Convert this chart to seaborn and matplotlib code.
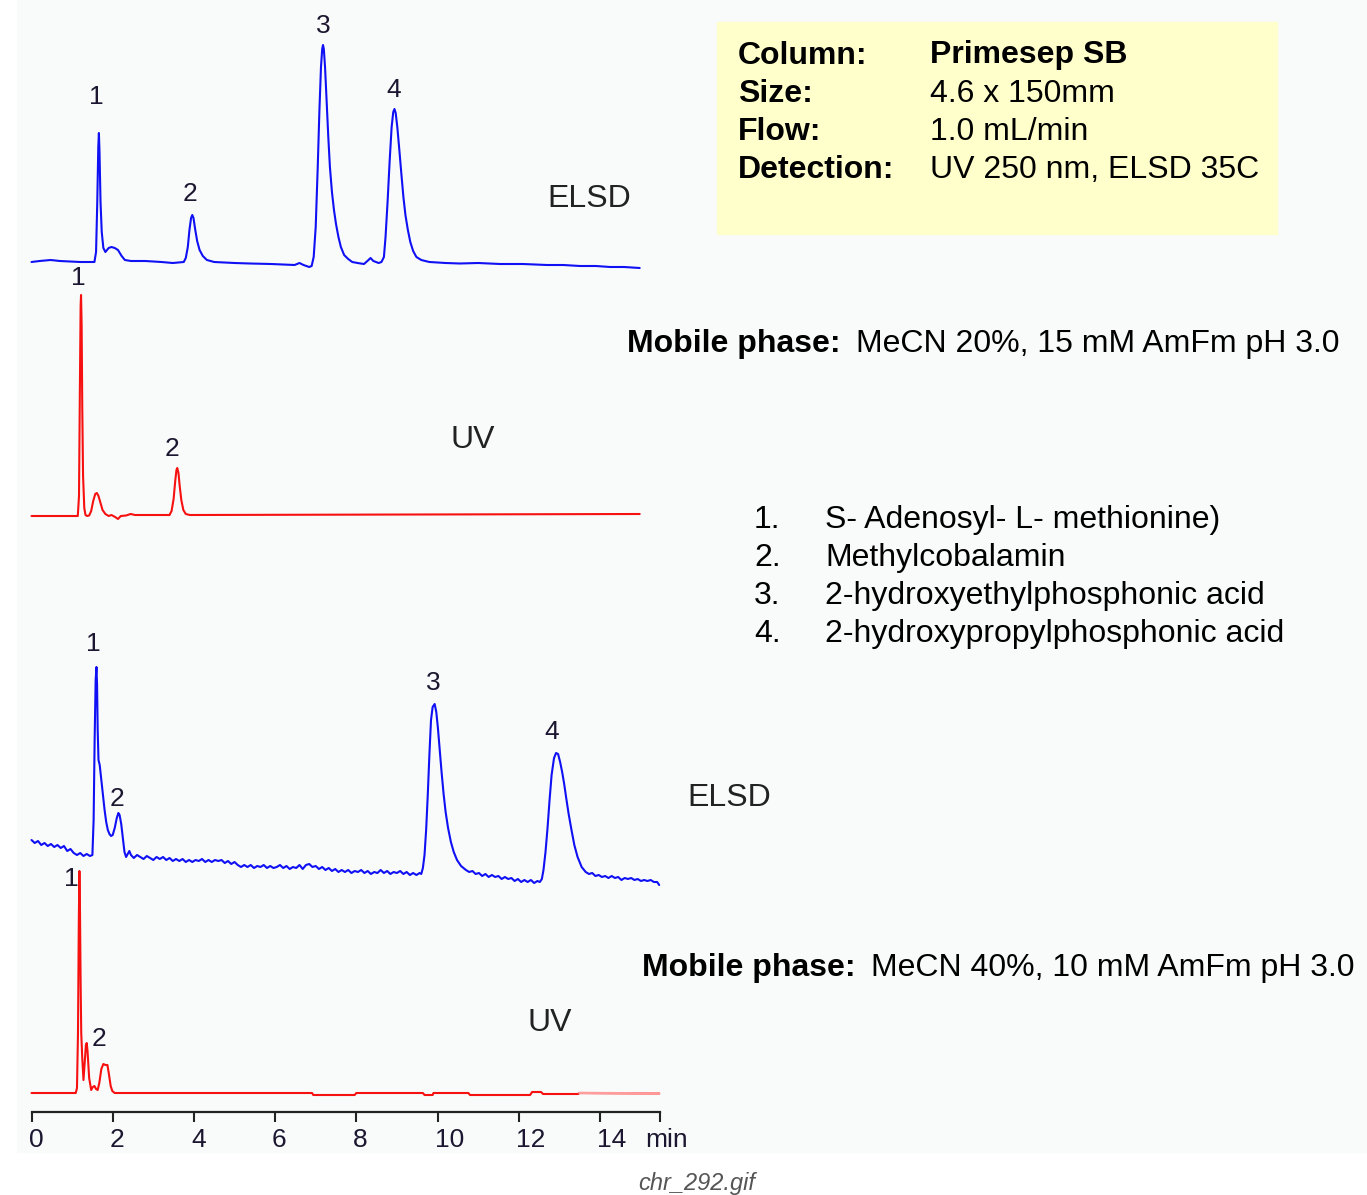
import numpy as np
import matplotlib
matplotlib.use("Agg")
import matplotlib.pyplot as plt
from matplotlib.patches import Rectangle
from matplotlib.transforms import ScaledTranslation
import seaborn as sns

# ---- data: (time in min, signal in arbitrary units) ----
elsd1 = np.array([
    (0.00, 0), (0.20, 1), (0.47, 2), (0.70, 1), (0.95, 0.5), (1.20, 0), (1.50, 0),
    (1.55, 0), (1.59, 10), (1.62, 60), (1.645, 115), (1.66, 129), (1.675, 110),
    (1.70, 60), (1.73, 30), (1.77, 14), (1.82, 10), (1.90, 14), (1.97, 15),
    (2.05, 14), (2.13, 12), (2.22, 6), (2.30, 2), (2.45, 1), (2.80, 1), (3.20, 0),
    (3.48, -1), (3.75, 0), (3.80, 4), (3.85, 15), (3.89, 32), (3.93, 44), (3.96, 47),
    (3.99, 44), (4.03, 33), (4.08, 21), (4.14, 12), (4.22, 6), (4.32, 2), (4.50, 0),
    (5.00, -1), (5.38, -1.5), (5.90, -2), (6.48, -3), (6.60, -1), (6.70, -3),
    (6.84, -5), (6.90, -4), (6.95, 5), (7.00, 35), (7.05, 95), (7.09, 150),
    (7.13, 195), (7.16, 213), (7.18, 217), (7.20, 213), (7.23, 195), (7.27, 160),
    (7.31, 125), (7.35, 95), (7.40, 70), (7.45, 52), (7.50, 38), (7.56, 25),
    (7.62, 15), (7.70, 7), (7.80, 3), (7.90, 0), (8.03, -1), (8.19, -2), (8.30, 2),
    (8.35, 4), (8.42, 1), (8.55, -1), (8.62, 0), (8.68, 5), (8.72, 25), (8.77, 60),
    (8.82, 100), (8.87, 135), (8.91, 150), (8.94, 153), (8.97, 149), (9.01, 135),
    (9.06, 112), (9.11, 88), (9.16, 65), (9.21, 47), (9.27, 32), (9.33, 20),
    (9.40, 11), (9.48, 5), (9.60, 2), (9.80, 0), (10.20, -1), (10.55, -1.5),
    (11.00, -1), (11.54, -2), (12.10, -2), (12.70, -3), (13.10, -3), (13.51, -4),
    (13.90, -4), (14.25, -5), (14.60, -5), (14.98, -6),
])

uv1 = np.array([
    (0.00, 0), (1.14, 0), (1.17, 20), (1.19, 120), (1.21, 210), (1.22, 221),
    (1.235, 190), (1.25, 110), (1.27, 40), (1.30, 8), (1.33, 1), (1.37, 0),
    (1.42, 0.5), (1.47, 5), (1.52, 15), (1.57, 22), (1.61, 23), (1.65, 20),
    (1.70, 13), (1.75, 6), (1.82, 2), (1.90, 0), (1.97, 1), (2.06, -1), (2.13, -3),
    (2.20, 0), (2.33, 0.5), (2.44, 2), (2.55, 1), (3.32, 1), (3.40, 1), (3.45, 5),
    (3.50, 17), (3.54, 35), (3.57, 46), (3.59, 48), (3.62, 43), (3.65, 30),
    (3.69, 16), (3.74, 6), (3.80, 2), (3.90, 1), (14.98, 2),
])

elsd2 = np.array([
    (0.00, 20), (0.08, 17), (0.16, 19), (0.24, 15), (0.32, 17), (0.40, 14), (0.48, 16),
    (0.56, 13), (0.64, 15), (0.72, 12), (0.80, 14), (0.88, 9), (0.96, 11), (1.04, 7),
    (1.12, 5), (1.20, 7), (1.28, 4), (1.36, 6), (1.44, 4), (1.50, 5), (1.53, 40),
    (1.555, 120), (1.58, 180), (1.60, 193), (1.615, 175), (1.63, 130), (1.65, 100),
    (1.68, 95), (1.72, 80), (1.76, 65), (1.80, 50), (1.84, 38), (1.88, 30), (1.92, 26),
    (1.96, 24), (2.00, 25), (2.05, 32), (2.10, 42), (2.14, 47), (2.17, 45), (2.21, 36),
    (2.25, 22), (2.29, 8), (2.33, 3), (2.37, 6), (2.41, 9), (2.45, 5), (2.52, 2),
    (2.60, 5), (2.68, 3), (2.76, 1), (2.84, 4), (2.92, 2), (3.00, 0), (3.08, 3),
    (3.16, 1), (3.24, 3), (3.32, 0), (3.40, 2), (3.48, -1), (3.56, 1), (3.64, -1),
    (3.72, 1), (3.80, -2), (3.88, 0), (3.96, -2), (4.04, 0), (4.12, -1), (4.20, 1),
    (4.28, -2), (4.36, 0), (4.44, -2), (4.52, 0), (4.60, -1), (4.68, 0), (4.76, -3),
    (4.84, -1), (4.92, -4), (5.00, -2), (5.08, -5), (5.16, -7), (5.24, -5), (5.32, -7),
    (5.40, -5), (5.48, -8), (5.56, -6), (5.64, -7), (5.72, -5), (5.80, -8), (5.88, -6),
    (5.96, -8), (6.04, -7), (6.12, -5), (6.20, -8), (6.28, -6), (6.36, -9), (6.44, -7),
    (6.52, -8), (6.60, -5), (6.68, -9), (6.76, -5), (6.84, -4), (6.92, -7), (7.00, -6),
    (7.08, -9), (7.16, -7), (7.24, -10), (7.32, -8), (7.40, -11), (7.48, -9),
    (7.56, -12), (7.64, -10), (7.72, -12), (7.80, -10), (7.88, -13), (7.96, -11),
    (8.04, -12), (8.12, -10), (8.20, -13), (8.28, -11), (8.36, -14), (8.44, -12),
    (8.52, -13), (8.60, -10), (8.68, -13), (8.76, -11), (8.84, -14), (8.92, -12),
    (9.00, -13), (9.08, -11), (9.16, -14), (9.24, -12), (9.32, -15), (9.40, -13),
    (9.48, -15), (9.56, -13), (9.60, -14), (9.64, -8), (9.68, 5), (9.72, 30),
    (9.76, 65), (9.80, 105), (9.84, 140), (9.88, 153), (9.93, 156), (9.97, 148),
    (10.01, 132), (10.05, 112), (10.10, 88), (10.15, 66), (10.20, 48), (10.26, 32),
    (10.33, 18), (10.40, 8), (10.48, 0), (10.58, -6), (10.70, -10), (10.78, -12),
    (10.86, -11), (10.94, -14), (11.02, -13), (11.10, -16), (11.18, -14), (11.26, -17),
    (11.34, -15), (11.42, -17), (11.50, -16), (11.58, -19), (11.66, -17), (11.74, -19),
    (11.82, -18), (11.90, -21), (11.98, -19), (12.06, -22), (12.14, -20), (12.22, -22),
    (12.30, -20), (12.38, -23), (12.46, -21), (12.52, -22), (12.57, -19), (12.61, -10),
    (12.66, 8), (12.71, 32), (12.76, 60), (12.81, 85), (12.87, 102), (12.92, 107),
    (12.97, 106), (13.02, 98), (13.07, 88), (13.12, 76), (13.17, 62), (13.23, 46),
    (13.30, 30), (13.37, 15), (13.45, 3), (13.55, -7), (13.65, -12), (13.73, -14),
    (13.81, -13), (13.89, -16), (13.97, -15), (14.05, -17), (14.13, -16), (14.21, -18),
    (14.29, -16), (14.37, -18), (14.45, -17), (14.53, -20), (14.61, -18), (14.69, -19),
    (14.77, -18), (14.85, -20), (14.93, -19), (15.01, -21), (15.09, -20), (15.17, -21),
    (15.25, -20), (15.33, -22), (15.41, -22), (15.46, -25),
])

uv2 = np.array([
    (0.00, 0), (1.09, 0), (1.12, 5), (1.145, 60), (1.165, 170), (1.18, 222),
    (1.195, 180), (1.21, 110), (1.225, 60), (1.25, 35), (1.28, 13), (1.31, 30),
    (1.34, 48), (1.36, 50), (1.38, 42), (1.42, 15), (1.47, 3), (1.51, 6), (1.55, 7),
    (1.59, 4), (1.63, 3), (1.67, 10), (1.72, 24), (1.77, 29), (1.82, 28), (1.87, 28),
    (1.91, 18), (1.95, 7), (1.99, 2), (2.05, 0), (6.91, 0), (6.94, -2), (7.96, -2),
    (8.00, 0), (9.64, 0), (9.68, -2), (9.88, -2), (9.90, 0), (10.76, 0), (10.80, -2),
    (12.28, -2), (12.33, 1), (12.55, 1), (12.60, -1), (13.46, -1), (13.50, 0),
    (15.46, -0.5),
])

elsd1_peaks = [1.66, 3.96, 7.18, 8.94]
uv1_peaks = [1.22, 3.59]
elsd2_peaks = [1.60, 2.14, 9.93, 12.93]
uv2_peaks = [1.18, 1.36]
peak_names = ["1", "2", "3", "4"]

compounds = ["S- Adenosyl- L- methionine)", "Methylcobalamin",
             "2-hydroxyethylphosphonic acid", "2-hydroxypropylphosphonic acid"]
conditions = [("Column:", "Primesep SB"), ("Size:", "4.6 x 150mm"),
              ("Flow:", "1.0 mL/min"), ("Detection:", "UV 250 nm, ELSD 35C")]
mobile_phases = ["MeCN 20%, 15 mM AmFm pH 3.0", "MeCN 40%, 10 mM AmFm pH 3.0"]
time_ticks = [0, 2, 4, 6, 8, 10, 12, 14]

# ---- style ----
sns.set_style("white")
plt.rcParams["font.family"] = ["Liberation Sans", "DejaVu Sans"]
narrow = ["Liberation Sans Narrow", "Liberation Sans", "DejaVu Sans"]

W, H = 1367, 1195
fig = plt.figure(figsize=(W / 100, H / 100), dpi=100)
fig.patch.set_facecolor("white")
fig.patches.append(Rectangle((17 / W, 1 - 1152 / H), (W - 17) / W, 1152 / H,
                             transform=fig.transFigure, color="#f9fbfa", zorder=-10))


def fx(px):
    return px / W


def fy(py):
    return 1 - py / H


# chromatogram axes: x axis sits at pixel row 1112, 0 min at px 31.5
ax = fig.add_axes([31.5 / W, (H - 1112) / H, 628.5 / W, 1112 / H])
ax.set_zorder(5)
ax.patch.set_alpha(0)
ax.set_xlim(0, 15.48)
ax.set_ylim(0, 1112)

blue = "#1010f4"
red = "#f61010"
traces = [
    (elsd1, 850, blue, elsd1_peaks, [(-3, 36), (-2, 21), (0, 19), (-1, 19)]),
    (uv1, 596, red, uv1_peaks, [(-3, 17), (-5, 19)]),
    (elsd2, 252, blue, elsd2_peaks, [(-3, 23), (-1, 14), (-1, 21), (-5, 21)]),
    (uv2, 19, red, uv2_peaks, [(-8, -8), (12, 4)]),
]

for data, base, col, peaks, offs in traces:
    t = data[:, 0]
    y = data[:, 1] + base
    sns.lineplot(x=t, y=y, color=col, linewidth=1.5, sort=False,
                 estimator=None, ax=ax, clip_on=False)
    for name, rt, (dx, dy) in zip(peak_names, peaks, offs):
        ya = np.interp(rt, t, y)
        ax.annotate(name, xy=(rt, ya), xytext=(dx * 0.72, dy * 0.72),
                    textcoords="offset points", ha="center", va="center",
                    fontsize=19, family=narrow, color="#1c1630")

# faded tail of the lower UV trace
m = uv2[:, 0] >= 13.5
sns.lineplot(x=uv2[m, 0], y=uv2[m, 1] + 19, color="#ff9c9c", linewidth=1.8,
             sort=False, estimator=None, ax=ax, clip_on=False)

for side in ["top", "left", "right"]:
    ax.spines[side].set_visible(False)
ax.spines["bottom"].set_color("#222222")
ax.spines["bottom"].set_linewidth(1.6)
ax.set_yticks([])
ax.set_xticks(time_ticks + [15.48])
ax.set_xticklabels([str(v) for v in time_ticks] + [""], fontsize=19,
                   family=narrow, color="#1c1630", ha="left")
ax.tick_params(axis="x", direction="out", length=7.5, width=1.5,
               color="#222222", pad=4, bottom=True)
shift = ScaledTranslation(-3 / 100, 0, fig.dpi_scale_trans)
for lab in ax.get_xticklabels():
    lab.set_transform(lab.get_transform() + shift)
ax.set_xlabel("")
ax.set_ylabel("")
fig.text(fx(645), fy(1147), "min", fontsize=19, family=narrow,
         color="#1c1630", va="baseline")

# detector labels
fs = 23
fig.text(fx(547), fy(207), "ELSD", fontsize=fs, color="#222222", va="baseline")
fig.text(fx(450), fy(448), "UV", fontsize=fs, color="#222222", va="baseline")
fig.text(fx(687), fy(806), "ELSD", fontsize=fs, color="#222222", va="baseline")
fig.text(fx(527), fy(1031), "UV", fontsize=fs, color="#222222", va="baseline")

# conditions box
fig.patches.append(Rectangle((fx(717), fy(234)), (1277 - 717) / W, (234 - 22) / H,
                             transform=fig.transFigure, color="#ffffcc", zorder=-5))
for i, (k, v) in enumerate(conditions):
    yb = fy(63.5 + i * 38.2)
    fig.text(fx(738), yb, k, fontsize=fs, fontweight="bold", color="black",
             va="baseline", zorder=3)
    fig.text(fx(930), yb, v, fontsize=fs, color="black", va="baseline",
             fontweight="bold" if i == 0 else "normal", zorder=3)

# mobile phases
for (xb, xv, yb), mp in zip([(627, 856, 352), (642, 871, 976)], mobile_phases):
    fig.text(fx(xb), fy(yb), "Mobile phase:", fontsize=fs, fontweight="bold",
             color="black", va="baseline")
    fig.text(fx(xv), fy(yb), mp, fontsize=fs, color="black", va="baseline")

# compound list
for i, c in enumerate(compounds):
    yb = fy(528 + i * 38)
    fig.text(fx(754), yb, f"{i + 1}.", fontsize=fs, color="black", va="baseline")
    fig.text(fx(825), yb, c, fontsize=fs, color="black", va="baseline")

fig.text(fx(638), fy(1190), "chr_292.gif", fontsize=17, style="italic",
         color="#555555", va="baseline")

fig.savefig("out.png", dpi=100, facecolor=fig.get_facecolor())
